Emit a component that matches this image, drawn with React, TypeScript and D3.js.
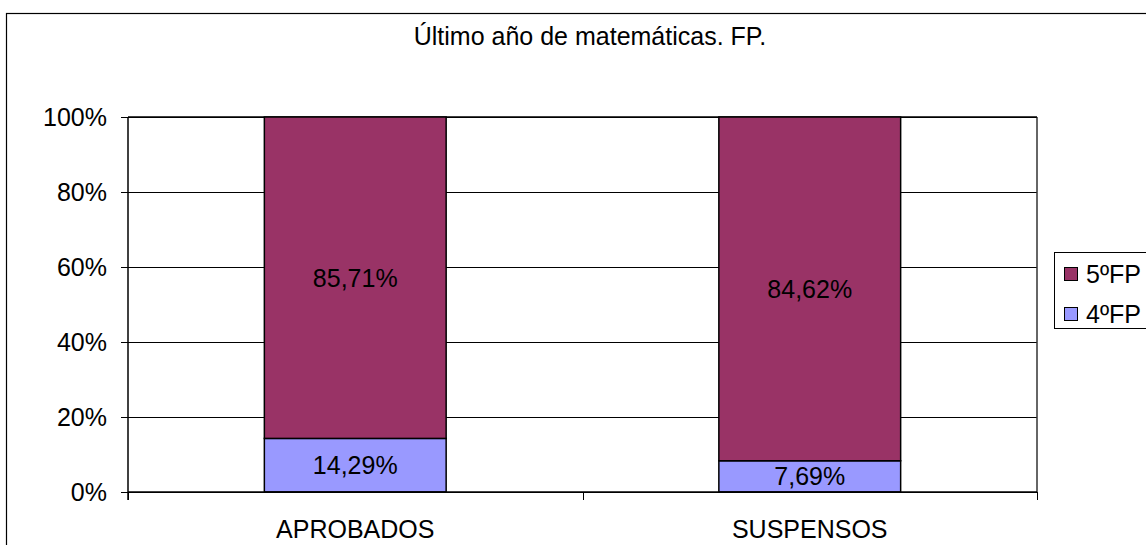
import React from "react";
import * as d3 from "d3";

const categories = ["APROBADOS", "SUSPENSOS"];
const seriesNames = ["4ºFP", "5ºFP"];
const serie4FP = [14.29, 7.69];
const serie5FP = [85.71, 84.62];
const yTicks = [0, 20, 40, 60, 80, 100];
const colors = ["#9999FF", "#993366"];
const title = "Último año de matemáticas. FP.";

const W = 1146;
const H = 545;
const FONT = "'Liberation Sans', Arial, sans-serif";
const FS = 25;

export default function App() {
  const left = 128, right = 1037, top = 117, bottom = 492;
  const x = d3.scaleBand<string>().domain(categories).range([left, right]).paddingInner(0).paddingOuter(0);
  const y = d3.scaleLinear().domain([0, 100]).range([bottom, top]);
  const barW = x.bandwidth() * 0.4;

  const rows = categories.map((c, i) => ({ cat: c, "4ºFP": serie4FP[i], "5ºFP": serie5FP[i] }));
  const stack = d3.stack<any>().keys(seriesNames).offset(d3.stackOffsetExpand);
  const stacked = stack(rows);
  const raw = [serie4FP, serie5FP];
  const fmt = (v: number) => v.toFixed(2).replace(".", ",") + "%";
  const px = (v: number) => Math.round(v) + 0.5;

  return (
    <svg width={W} height={H} style={{ position: "fixed", left: 0, top: 0, background: "#fff" }} fontFamily={FONT}>
      <rect x={0} y={0} width={W} height={H} fill="#fff" />
      <rect x={6.5} y={13.5} width={1300} height={700} fill="none" stroke="#000" strokeWidth={1.2} />
      <text x={590} y={45} textAnchor="middle" fontSize={FS} fill="#000">{title}</text>

      {/* gridlines */}
      {yTicks.map((t) => (
        <line key={"g" + t} x1={left} x2={right} y1={px(y(t))} y2={px(y(t))} stroke="#000" strokeWidth={1} shapeRendering="crispEdges" />
      ))}
      {/* plot border */}
      <line x1={right} x2={right} y1={top} y2={bottom} stroke="#333" strokeWidth={1.5} />
      <line x1={left} x2={right} y1={top} y2={top} stroke="#000" strokeWidth={1.5} />

      {/* bars */}
      {stacked.map((s, si) =>
        s.map((d, ci) => {
          const bx = (x(categories[ci]) as number) + (x.bandwidth() - barW) / 2;
          const y0 = y(d[0] * 100), y1 = y(d[1] * 100);
          return (
            <g key={si + "-" + ci}>
              <rect x={bx} y={y1} width={barW} height={y0 - y1} fill={colors[si]} stroke="#000" strokeWidth={1.5} />
              <text x={bx + barW / 2} y={(y0 + y1) / 2} dy="0.36em" textAnchor="middle" fontSize={FS} fill="#000">
                {fmt(raw[si][ci])}
              </text>
            </g>
          );
        })
      )}

      {/* axes */}
      <line x1={left} x2={left} y1={top} y2={bottom + 8} stroke="#000" strokeWidth={1.5} />
      <line x1={left} x2={right} y1={bottom} y2={bottom} stroke="#000" strokeWidth={1.5} />
      {yTicks.map((t) => (
        <g key={"t" + t}>
          <line x1={left - 7} x2={left} y1={px(y(t))} y2={px(y(t))} stroke="#000" strokeWidth={1} shapeRendering="crispEdges" />
          <text x={107} y={y(t)} dy="0.36em" textAnchor="end" fontSize={FS} fill="#000">{t + "%"}</text>
        </g>
      ))}
      {[...categories.map((c) => x(c) as number), right].map((v, i) => (
        <line key={"xt" + i} x1={px(v)} x2={px(v)} y1={bottom} y2={bottom + 8} stroke="#000" strokeWidth={1} shapeRendering="crispEdges" />
      ))}
      {categories.map((c) => (
        <text key={c} x={(x(c) as number) + x.bandwidth() / 2} y={538} textAnchor="middle" fontSize={FS} fill="#000">{c}</text>
      ))}

      {/* legend */}
      <rect x={1054.5} y={252.5} width={200} height={76} fill="#fff" stroke="#000" strokeWidth={1} />
      {[1, 0].map((si, k) => (
        <g key={"l" + si}>
          <rect x={1064.5} y={267.5 + k * 40} width={13} height={13} fill={colors[si]} stroke="#000" strokeWidth={1} />
          <text x={1086} y={274 + k * 40} dy="0.36em" fontSize={FS} fill="#000">{seriesNames[si]}</text>
        </g>
      ))}
    </svg>
  );
}
